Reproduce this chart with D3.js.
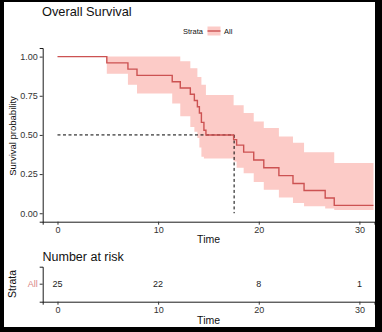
<!DOCTYPE html>
<html><head><meta charset="utf-8">
<script src="https://cdn.jsdelivr.net/npm/d3@7"></script>
<style>html,body{margin:0;padding:0;background:#000;}svg{display:block;}</style>
</head><body>
<script>
// ---- data ----
const times = [0, 4.9, 7.0, 7.9, 11.4, 12.2, 13.2, 13.6, 13.9, 14.1, 14.3, 14.55, 14.75, 17.5, 17.8, 18.5, 19.5, 20.5, 22.0, 23.4, 24.5, 26.6, 27.5, 31.4];
const surv  = [1.00, 0.96, 0.92, 0.88, 0.84, 0.80, 0.76, 0.72, 0.68, 0.64, 0.58, 0.53, 0.50, 0.47, 0.435, 0.39, 0.34, 0.29, 0.24, 0.19, 0.145, 0.097, 0.05, 0.05];
const upper = [1.00, 1.00, 1.00, 1.00, 1.00, 0.97, 0.925, 0.925, 0.87, 0.87, 0.82, 0.82, 0.755, 0.69, 0.69, 0.64, 0.585, 0.545, 0.49, 0.45, 0.39, 0.39, 0.32, 0.32];
const lower = [1.00, 0.89, 0.82, 0.765, 0.70, 0.62, 0.55, 0.52, 0.48, 0.42, 0.36, 0.35, 0.35, 0.33, 0.29, 0.255, 0.20, 0.15, 0.10, 0.065, 0.045, 0.03, 0.02, 0.02];
const medianTime = 17.55;
const xTicks = [0, 10, 20, 30];
const yTicks = [0, 0.25, 0.5, 0.75, 1.0];
const riskTimes = [0, 10, 20, 30];
const riskCounts = [25, 22, 8, 1];
const strata = ["All"];

const W = 382, H = 332;
const font = "Liberation Sans, Arial, sans-serif";
const lineColor = "#cc5252", bandColor = "#f8766d";

const svg = d3.select("body").append("svg").attr("width", W).attr("height", H);
svg.append("rect").attr("x", 4).attr("y", 2).attr("width", 371).attr("height", 325).attr("fill", "#fff");

const pLeft = 42.7, pRight = 374.5, pTop = 48, pBottom = 221.7;
const x = d3.scaleLinear().domain([-1.47, 31.5]).range([pLeft, pRight]);
const y = d3.scaleLinear().domain([-0.054, 1.055]).range([pBottom, pTop]);

const data = times.map((t, i) => ({t, s: surv[i], lo: lower[i], up: upper[i]}));

// band
svg.append("path").datum(data)
  .attr("d", d3.area().curve(d3.curveStepAfter).x(d => x(d.t)).y0(d => y(d.lo)).y1(d => y(d.up)))
  .attr("fill", bandColor).attr("fill-opacity", 0.38);

// median lines
svg.append("line").attr("x1", x(0)).attr("x2", x(medianTime)).attr("y1", y(0.5)).attr("y2", y(0.5))
  .attr("stroke", "#000").attr("stroke-width", 1).attr("stroke-dasharray", "3,2.5");
svg.append("line").attr("x1", x(medianTime)).attr("x2", x(medianTime)).attr("y1", y(0.5)).attr("y2", y(0))
  .attr("stroke", "#000").attr("stroke-width", 1).attr("stroke-dasharray", "3,2.5");

// survival line
svg.append("path").datum(data)
  .attr("d", d3.line().curve(d3.curveStepAfter).x(d => x(d.t)).y(d => y(d.s)))
  .attr("fill", "none").attr("stroke", lineColor).attr("stroke-width", 1.4);

// axes
const yAxis = svg.append("g").attr("transform", `translate(${pLeft},0)`)
  .call(d3.axisLeft(y).tickValues(yTicks).tickFormat(d3.format(".2f")).tickSizeOuter(0).tickSize(3).tickPadding(2));
const xAxis = svg.append("g").attr("transform", `translate(0,${pBottom})`)
  .call(d3.axisBottom(x).tickValues(xTicks).tickSizeOuter(0).tickSize(3).tickPadding(2));
[yAxis, xAxis].forEach(g => {
  g.select(".domain").attr("stroke", "#000").attr("stroke-width", 0.9);
  g.selectAll(".tick line").attr("stroke", "#333");
  g.selectAll("text").attr("font-family", font).attr("font-size", 9).attr("fill", "#333");
});

svg.append("text").attr("x", (pLeft + pRight) / 2).attr("y", 243).attr("text-anchor", "middle")
  .attr("font-family", font).attr("font-size", 10.5).attr("fill", "#111").text("Time");
svg.append("text").attr("transform", `translate(16,136) rotate(-90)`).attr("text-anchor", "middle")
  .attr("font-family", font).attr("font-size", 9.5).attr("fill", "#111").text("Survival probability");

// title
svg.append("text").attr("x", 42).attr("y", 16).attr("font-family", font).attr("font-size", 12.8)
  .attr("fill", "#111").text("Overall Survival");

// legend
const lg = svg.append("g");
lg.append("text").attr("x", 183).attr("y", 34).attr("font-family", font).attr("font-size", 7.5)
  .attr("fill", "#111").text("Strata");
lg.append("rect").attr("x", 207.5).attr("y", 26.5).attr("width", 13).attr("height", 9)
  .attr("fill", bandColor).attr("fill-opacity", 0.38);
lg.append("line").attr("x1", 207.5).attr("x2", 220.5).attr("y1", 31).attr("y2", 31)
  .attr("stroke", lineColor).attr("stroke-width", 1.4);
lg.append("text").attr("x", 224).attr("y", 34).attr("font-family", font).attr("font-size", 7.5)
  .attr("fill", "#111").text(strata[0]);

// risk table
const rTop = 266.7, rBottom = 301.7;
svg.append("text").attr("x", 42.5).attr("y", 260.5).attr("font-family", font).attr("font-size", 12.5)
  .attr("fill", "#111").text("Number at risk");
const ry = d3.scaleBand().domain(strata).range([rBottom, rTop]);
const ryAxis = svg.append("g").attr("transform", `translate(${pLeft},0)`)
  .call(d3.axisLeft(ry).tickSizeOuter(0).tickSize(3).tickPadding(2));
const rxAxis = svg.append("g").attr("transform", `translate(0,${rBottom})`)
  .call(d3.axisBottom(x).tickValues(xTicks).tickSizeOuter(0).tickSize(3).tickPadding(2));
[ryAxis, rxAxis].forEach(g => {
  g.select(".domain").attr("stroke", "#000").attr("stroke-width", 0.9);
  g.selectAll(".tick line").attr("stroke", "#333");
  g.selectAll("text").attr("font-family", font).attr("font-size", 9).attr("fill", "#333");
});
ryAxis.selectAll("text").attr("fill", "#d98585");
svg.append("g").selectAll("text").data(riskTimes).join("text")
  .attr("x", d => x(d)).attr("y", ry("All") + ry.bandwidth() / 2 + 3.2)
  .attr("text-anchor", "middle").attr("font-family", font).attr("font-size", 9).attr("fill", "#222")
  .text((d, i) => riskCounts[i]);
svg.append("text").attr("x", (pLeft + pRight) / 2).attr("y", 323.5).attr("text-anchor", "middle")
  .attr("font-family", font).attr("font-size", 10.5).attr("fill", "#111").text("Time");
svg.append("text").attr("transform", `translate(16,284) rotate(-90)`).attr("text-anchor", "middle")
  .attr("font-family", font).attr("font-size", 10.5).attr("fill", "#111").text("Strata");
</script>
</body></html>
